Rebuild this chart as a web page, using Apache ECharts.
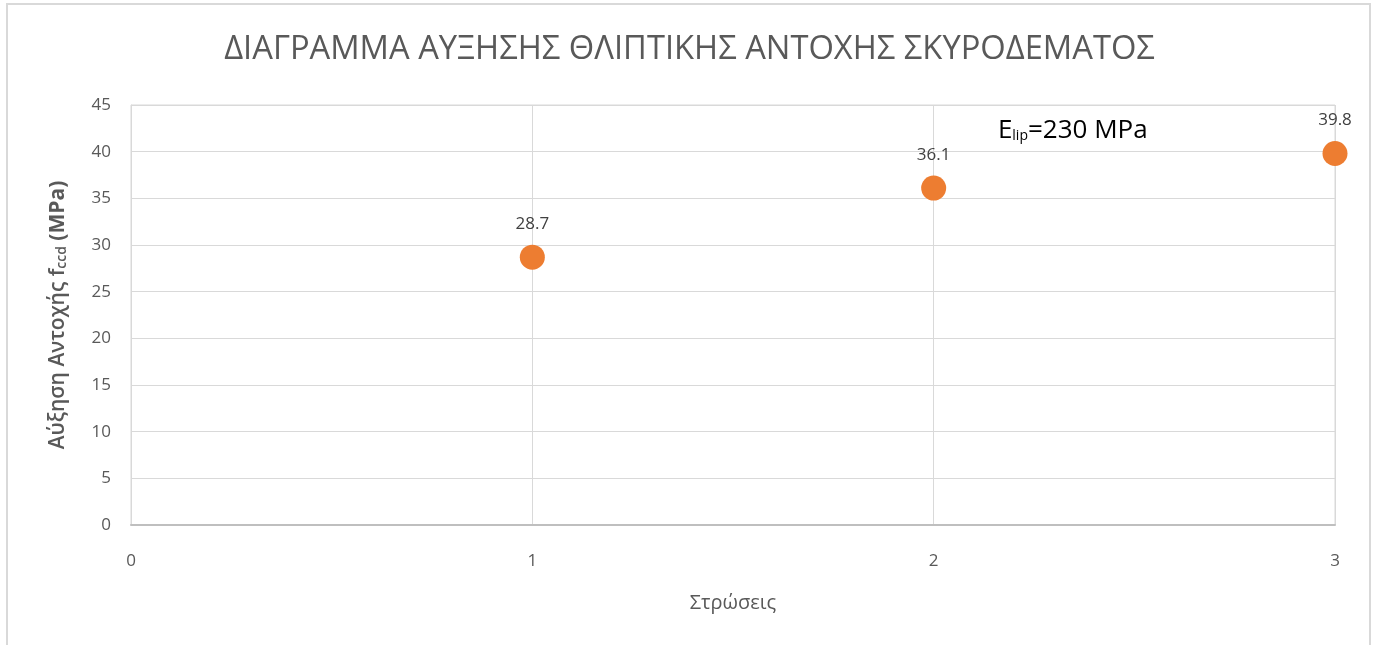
<!DOCTYPE html>
<html>
<head>
<meta charset="utf-8">
<script src="https://cdn.jsdelivr.net/npm/echarts@6/dist/echarts.min.js"></script>
<style>
html,body{margin:0;padding:0;background:#fff;}
#c{width:1379px;height:645px;}
</style>
</head>
<body>
<div id="c"></div>
<script>
const titleText = 'ΔΙΑΓΡΑΜΜΑ ΑΥΞΗΣΗΣ ΘΛΙΠΤΙΚΗΣ ΑΝΤΟΧΗΣ ΣΚΥΡΟΔΕΜΑΤΟΣ';
const xName = 'Στρώσεις';
const xValues = [1, 2, 3];
const yValues = [28.7, 36.1, 39.8];
const annotation = {x: 2.16, y: 42.3, text: '230 MPa'};

const font = '"Open Sans", sans-serif';
const chart = echarts.init(document.getElementById('c'));
chart.setOption({
  animation: false,
  backgroundColor: '#fff',
  title: {
    text: titleText, left: 'center', top: 28,
    textStyle: {fontFamily: font, fontSize: 32.7, fontWeight: 'normal', color: '#595959'}
  },
  grid: {left: 131, right: 44, top: 105, bottom: 120, show: true, borderColor: '#d9d9d9', borderWidth: 1},
  xAxis: {
    type: 'value', min: 0, max: 3, interval: 1,
    name: xName, nameLocation: 'middle', nameGap: 68,
    nameTextStyle: {fontFamily: font, fontSize: 20, color: '#595959'},
    axisLine: {show: true, lineStyle: {color: '#bfbfbf', width: 2}},
    axisTick: {show: false},
    axisLabel: {fontFamily: font, fontSize: 17, color: '#595959', margin: 28},
    splitLine: {show: true, lineStyle: {color: '#d9d9d9', width: 1}}
  },
  yAxis: {
    type: 'value', min: 0, max: 45, interval: 5,
    name: '{n|Αύξηση Αντοχής f}{s|ccd}{b| (MPa)}', nameLocation: 'middle', nameGap: 62,
    nameTextStyle: {
      fontFamily: font, fontSize: 21, color: '#595959',
      rich: {
        n: {fontFamily: font, fontSize: 21, color: '#595959', fontWeight: 600},
        s: {fontFamily: font, fontSize: 14, color: '#595959', fontWeight: 600, verticalAlign: 'bottom'},
        b: {fontFamily: font, fontSize: 21, color: '#595959', fontWeight: 'bold'}
      }
    },
    axisLine: {show: true, lineStyle: {color: '#d9d9d9'}},
    axisTick: {show: false},
    axisLabel: {fontFamily: font, fontSize: 17, color: '#595959', margin: 20},
    splitLine: {show: true, lineStyle: {color: '#d9d9d9', width: 1}}
  },
  series: [{
    type: 'scatter',
    data: xValues.map((x, i) => [x, yValues[i]]),
    symbolSize: 25,
    itemStyle: {color: '#ed7d31', opacity: 1},
    label: {show: true, position: 'top', distance: 12, fontFamily: font, fontSize: 17, color: '#404040',
      formatter: p => p.value[1].toFixed(1)}
  }],
  graphic: [{
    type: 'rect', shape: {x: 7, y: 4, width: 1363, height: 660},
    style: {fill: 'none', stroke: '#d9d9d9', lineWidth: 2}, silent: true, z: -1
  }]
});
const pos = chart.convertToPixel({gridIndex: 0}, [annotation.x, annotation.y]);
chart.setOption({
  graphic: [{}, {
    type: 'text', x: pos[0], y: pos[1],
    style: {
      text: '{e|E}{s|lip}{e|=' + annotation.text + '}',
      textVerticalAlign: 'middle',
      rich: {
        e: {fontFamily: font, fontSize: 26, fill: '#000'},
        s: {fontFamily: font, fontSize: 14, fill: '#000', verticalAlign: 'bottom'}
      }
    }
  }]
});
</script>
</body>
</html>
